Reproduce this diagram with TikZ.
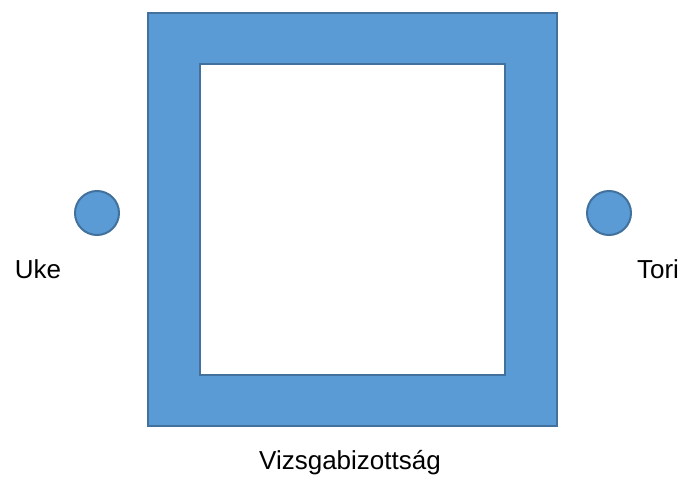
\documentclass[tikz,border=0pt]{standalone}
\usepackage{fontspec}
\setmainfont{Liberation Sans}
\definecolor{boxfill}{HTML}{5B9BD5}
\definecolor{boxline}{HTML}{41719C}
\begin{document}
\begin{tikzpicture}[x=1pt,y=-1pt,
  frame/.style={fill=boxfill,draw=boxline,line width=2pt},
  dot/.style={circle,fill=boxfill,draw=boxline,line width=2pt,minimum size=44pt,inner sep=0pt},
  lbl/.style={font=\fontsize{26}{30}\selectfont,inner sep=0pt,anchor=base}]
\useasboundingbox (0,0) rectangle (697,500);
\fill[white] (0,0) rectangle (697,500);
\draw[frame,even odd rule] (148,13) rectangle (557,426) (200,64) rectangle (505,375);
\node[dot] (uked) at (97,213) {};
\node[dot] (torid) at (609,213) {};
\node[lbl] (uke) at (38,279) {Uke};
\node[lbl] (tori) at (658,279) {Tori};
\node[lbl] (viz) at (350,469) {Vizsgabizottság};
\end{tikzpicture}
\end{document}
